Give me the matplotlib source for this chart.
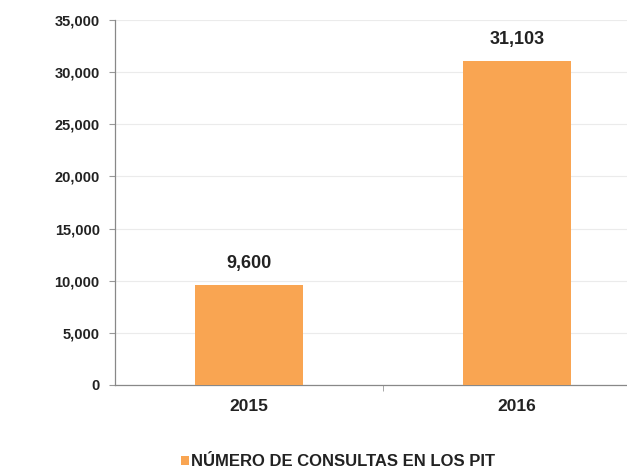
import matplotlib.pyplot as plt
from matplotlib.ticker import FuncFormatter

years = ["2015", "2016"]
consultas = [9600, 31103]
yticks = [0, 5000, 10000, 15000, 20000, 25000, 30000, 35000]
legend_label = "NÚMERO DE CONSULTAS EN LOS PIT"

plt.rcParams["font.family"] = ["Liberation Sans", "DejaVu Sans"]
plt.rcParams["font.weight"] = "bold"

fig = plt.figure(figsize=(6.27, 4.71), dpi=100)
# axes wider than the figure: the right half of the second category is cut off
ax = fig.add_axes([0.1834, 0.1826, 0.855, 0.775])

bars = ax.bar(range(len(years)), consultas, width=0.4, color="#F9A552",
              label=legend_label, zorder=3)
for b, v in zip(bars, consultas):
    ax.text(b.get_x() + b.get_width() / 2, v + 1250, f"{v:,}",
            ha="center", va="bottom", fontsize=13, fontweight="bold",
            color="#222222")

ax.set_xlim(-0.5, 1.5)
ax.set_ylim(0, 35000)
ax.set_yticks(yticks)
ax.yaxis.set_major_formatter(FuncFormatter(lambda v, p: f"{int(v):,}"))
ax.set_xticks(range(len(years)))
ax.set_xticklabels(years, fontsize=12.5, fontweight="bold", color="#222222")
ax.set_xticks([0.5], minor=True)
ax.tick_params(axis="y", labelsize=10.5, length=4, color="#999999", pad=7,
               labelcolor="#222222")
ax.tick_params(axis="x", which="major", length=0, pad=10)
ax.tick_params(axis="x", which="minor", length=4, color="#999999")

ax.grid(axis="y", color="#EBEBEB", linewidth=0.8, zorder=0)
for s in ["top", "right"]:
    ax.spines[s].set_visible(False)
for s in ["left", "bottom"]:
    ax.spines[s].set_color("#888888")
    ax.spines[s].set_linewidth(0.9)

fig.legend(handles=[bars], labels=[legend_label], loc="center",
           bbox_to_anchor=(338 / 627, 1 - 462 / 471), frameon=False,
           handlelength=0.5, handleheight=0.5, handletextpad=0.15,
           prop={"weight": "bold", "size": 12}, labelcolor="#222222")

fig.savefig("out.png", dpi=100)
